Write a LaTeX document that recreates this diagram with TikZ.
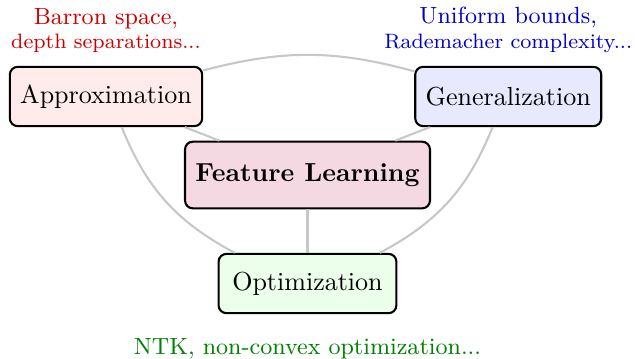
\documentclass[tikz,border=0pt]{standalone}
\usepackage{tikz}
\usetikzlibrary{positioning}
\usepackage{xcolor}
\tikzset{
  topic/.style = {draw, thick, rounded corners=3pt, align=center,
                  minimum width=2.4cm, minimum height=0.8cm, inner xsep=4pt},
  core/.style  = {topic, minimum height=0.9cm, font=\bfseries},
  note/.style  = {align=center, font=\footnotesize},
  link/.style  = {thick, draw=black!22}
}

\begin{document}
\begin{tikzpicture}
\useasboundingbox (-4.151,-2.4705) rectangle (4.421,2.3625);
% ---- Topics ----
\node[core, fill=purple!15]  (feat)   at (0,0)        {Feature Learning};
\node[topic, fill=red!8]     (approx) at (-2.72,1.06) {Approximation};
\node[topic, fill=blue!9]    (gen)    at (2.71,1.06)  {Generalization};
\node[topic, fill=green!8]   (opt)    at (0,-1.465)   {Optimization};

% ---- Notes ----
\node[note, text=red!80!black, above=0.5mm of approx] (approxnote)
  {{\small Barron space,}\\ depth separations...};
\node[note, text=blue!80!black, above=0.5mm of gen] (gennote)
  {{\small Uniform bounds,}\\ Rademacher complexity...};
\node[note, font=\small, text=green!50!black, below=2mm of opt] (optnote)
  {NTK, non-convex optimization...};

% ---- Links ----
\draw[link] (approx) -- (feat);
\draw[link] (gen) -- (feat);
\draw[link] (feat) -- (opt);
\draw[link] (approx) to[bend left=15] (gen);
\draw[link] (approx) to[bend right=20] (opt);
\draw[link] (gen) to[bend left=20] (opt);
\end{tikzpicture}
\end{document}
